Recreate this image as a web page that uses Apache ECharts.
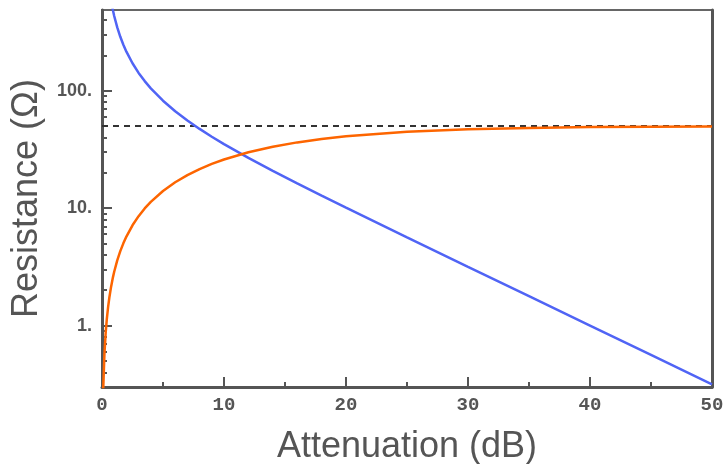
<!DOCTYPE html>
<html>
<head>
<meta charset="utf-8">
<script src="https://cdn.jsdelivr.net/npm/echarts@6/dist/echarts.min.js"></script>
<style>html,body{margin:0;padding:0;background:#fff;}#c{width:723px;height:464px;}</style>
</head>
<body>
<div id="c"></div>
<script>
// Attenuation (dB)
var attenuation = [0.1,0.2,0.3,0.4,0.5,0.6,0.75,0.9,1,1.25,1.5,1.75,2,2.5,3,3.5,4,5,6,7,8,9,10,12,14,16,18,20,25,30,35,40,45,50];
// Shunt resistance (blue), ohms
var shuntR = [4343,2171,1447.4,1085.4,868.1,723.2,578.3,481.7,433.3,346.2,288.1,246.6,215.2,171.3,141.9,120.8,104.8,82.24,66.93,55.80,47.31,40.59,35.14,26.81,20.78,16.26,12.79,10.10,5.641,3.165,1.779,1.000,0.5624,0.3162];
// Series resistance (orange), ohms
var seriesR = [0.2878,0.5756,0.8634,1.1511,1.4387,1.7262,2.1573,2.588,2.875,3.592,4.307,5.018,5.731,7.146,8.550,9.940,11.31,14.01,16.61,19.12,21.53,23.81,25.98,29.92,33.37,36.32,38.82,40.91,44.68,46.94,48.25,49.01,49.44,49.69];
// Reference impedance (dashed)
var refX = [0, 50];
var refR = [50, 50];
// Tick values
var xTicks = [0,10,20,30,40,50];
var yMajorTicks = [1,10,100];
var yMinorTicks = [0.4,0.5,0.6,0.7,0.8,0.9,2,3,4,5,6,7,8,9,20,30,40,50,60,70,80,90,200,300,400];

var Y_MIN = 0.3, Y_MAX = 487;
var AX = '#555';

function pairs(xs, ys){ return xs.map(function(x,i){ return [x, ys[i]]; }); }

var gridPos = {left:102, right:11, top:10, bottom:77, containLabel:false, outerBoundsMode:'none'};

var chart = echarts.init(document.getElementById('c'), null, {renderer:'canvas'});
chart.setOption({
  animation:false,
  backgroundColor:'#fff',
  grid:[
    Object.assign({show:true, borderColor:'#666', borderWidth:2, backgroundColor:'transparent'}, gridPos),
    Object.assign({show:false}, gridPos),
    Object.assign({show:false}, gridPos)
  ],
  xAxis:[{
    type:'value', gridIndex:0, min:0, max:50, interval:10,
    axisLine:{show:true, onZero:false, lineStyle:{color:AX, width:3}},
    axisTick:{show:true, inside:true, length:10, lineStyle:{color:AX, width:2}},
    minorTick:{show:true, splitNumber:2, length:5, lineStyle:{color:AX, width:2}},
    splitLine:{show:false}, minorSplitLine:{show:false},
    axisLabel:{margin:9, color:AX, fontFamily:'Liberation Mono', fontWeight:'bold', fontSize:19,
      customValues: xTicks},
    name:'Attenuation (dB)', nameLocation:'middle', nameGap:42,
    nameTextStyle:{fontFamily:'Liberation Sans', fontSize:36, color:AX}
  },{
    type:'value', gridIndex:1, min:0, max:50, show:false
  },{
    type:'value', gridIndex:2, min:0, max:50, show:false
  }],
  yAxis:[{
    type:'log', gridIndex:0, min:Y_MIN, max:Y_MAX, logBase:10,
    axisLine:{show:true, onZero:false, lineStyle:{color:AX, width:3}},
    axisTick:{show:false},
    minorTick:{show:false},
    splitLine:{show:false},
    axisLabel:{margin:10, color:AX, fontFamily:'Liberation Sans', fontWeight:'bold', fontSize:18,
      customValues: yMajorTicks, formatter:function(v){ return String(v) + '.'; }},
    name:'Resistance (\u03A9)', nameLocation:'middle', nameGap:57, nameRotate:90,
    nameTextStyle:{fontFamily:'Liberation Sans', fontSize:36, color:AX}
  },{
    type:'log', gridIndex:1, min:Y_MIN, max:Y_MAX, logBase:10, position:'left',
    axisLine:{show:false},
    axisTick:{show:true, inside:true, length:5, lineStyle:{color:AX, width:2}, customValues: yMinorTicks},
    axisLabel:{show:false},
    splitLine:{show:false}
  },{
    type:'log', gridIndex:1, min:Y_MIN, max:Y_MAX, logBase:10, position:'right',
    axisLine:{show:true, lineStyle:{color:AX, width:3}},
    axisTick:{show:false}, axisLabel:{show:false}, splitLine:{show:false}
  },{
    type:'log', gridIndex:2, min:Y_MIN, max:Y_MAX, logBase:10, position:'left',
    axisLine:{show:false},
    axisTick:{show:true, inside:true, length:10, lineStyle:{color:AX, width:2}, customValues: yMajorTicks},
    axisLabel:{show:false},
    splitLine:{show:false}
  }],
  series:[{
    type:'line', xAxisIndex:0, yAxisIndex:0, data:pairs(refX, refR), symbol:'none',
    lineStyle:{color:'#333', width:2, type:[6,5]}, z:2
  },{
    type:'line', xAxisIndex:0, yAxisIndex:0, data:pairs(attenuation, shuntR), symbol:'none', clip:true,
    lineStyle:{color:'#5064f5', width:2.5}, z:3
  },{
    type:'line', xAxisIndex:0, yAxisIndex:0, data:pairs(attenuation, seriesR), symbol:'none', clip:true,
    lineStyle:{color:'#fd6500', width:2.5}, z:4
  }]
});
</script>
</body>
</html>
